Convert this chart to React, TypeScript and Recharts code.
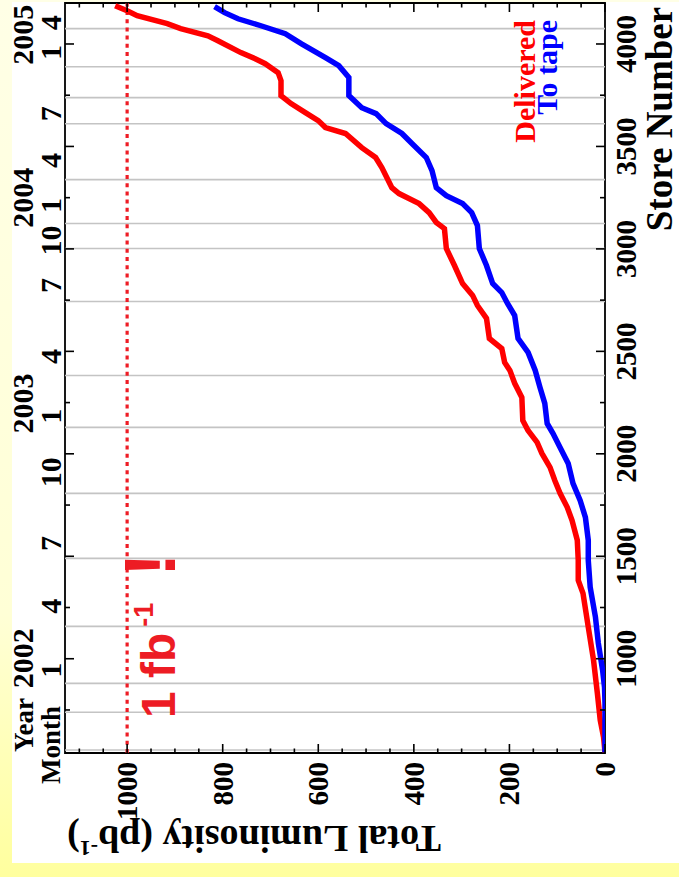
import React from "react";
import { LineChart, Line, XAxis, YAxis, ReferenceLine, ReferenceArea, Legend, Label } from "recharts";

// store number vs integrated luminosity (pb^-1)
const deliveredStore = [544, 617, 700, 832, 993, 1154, 1319, 1383, 1480, 1578, 1675, 1739, 1807, 1870, 1934, 2002, 2056, 2114, 2163, 2275, 2344, 2407, 2446, 2514, 2563, 2661, 2724, 2773, 2831, 2919, 3002, 3099, 3129, 3177, 3221, 3270, 3299, 3397, 3446, 3494, 3563, 3592, 3626, 3665, 3709, 3748, 3821, 3860, 3904, 3928, 3958, 4016, 4040, 4075, 4099, 4138, 4162, 4187];
const deliveredLum = [0, 3, 10, 16, 24, 35, 46, 56, 56, 58, 69, 79, 94, 105, 115, 132, 142, 161, 172, 174, 189, 199, 210, 216, 242, 248, 267, 277, 298, 315, 332, 336, 353, 368, 389, 431, 446, 467, 480, 509, 543, 585, 600, 627, 657, 678, 678, 684, 711, 732, 762, 810, 831, 888, 916, 979, 1000, 1025];

const tapeStore = [544, 783, 861, 944, 1076, 1203, 1349, 1480, 1578, 1690, 1773, 1856, 1953, 2031, 2100, 2148, 2246, 2324, 2407, 2495, 2563, 2675, 2734, 2787, 2831, 2919, 3002, 3114, 3177, 3221, 3260, 3299, 3382, 3446, 3514, 3563, 3611, 3660, 3689, 3748, 3836, 3894, 3933, 4001, 4050, 4089, 4123, 4153, 4182];
const tapeLum = [0, 0, 1, 5, 14, 20, 31, 35, 35, 41, 52, 67, 77, 94, 109, 121, 126, 136, 146, 161, 182, 189, 204, 216, 235, 248, 263, 267, 279, 298, 332, 353, 362, 374, 404, 425, 458, 479, 509, 536, 536, 557, 585, 635, 669, 720, 768, 796, 817];

const storeTicks = [750, 1000, 1250, 1500, 1750, 2000, 2250, 2500, 2750, 3000, 3250, 3500, 3750, 4000];
const lumTicks = [0, 50, 100, 150, 200, 250, 300, 350, 400, 450, 500, 550, 600, 650, 700, 750, 800, 850, 900, 950, 1000, 1050, 1100];

// calendar, placed on the store number scale
const monthTicks = [944, 1256, 1563, 1910, 2183, 2475, 2821, 3041, 3212, 3431, 3660, 3958, 4104];
const monthLabels = ["1", "4", "7", "10", "1", "4", "7", "10", "1", "4", "7", "1", "4"];
const yearTicks = [1003, 2246, 3250, 4045];
const yearLabels = ["2002", "2003", "2004", "2005"];
const monthLines = [555, 739, 880, 1158, 1490, 1807, 2129, 2382, 2743, 3002, 3124, 3338, 3611, 3738, 3889, 4075];

const deliveredData = deliveredStore.map((s, i) => ({ store: s, lum: deliveredLum[i] }));
const tapeData = tapeStore.map((s, i) => ({ store: s, lum: tapeLum[i] }));

// chart is drawn upright and then turned a quarter turn to the left
const W = 877;
const H = 679;
const PL = 124;
const PR = 874;
const PT = 65;
const PB = 605;
const SERIF = "'Liberation Serif', 'DejaVu Serif', serif";
const SANS = "'Liberation Sans', Arial, sans-serif";

function StoreTick(props: any) {
  const { x, payload } = props;
  const v = payload.value;
  const major = v % 500 === 0;
  const len = major ? 9 : 5;
  return (
    <g>
      <line x1={x} x2={x} y1={PB} y2={PB - len} stroke="#000" strokeWidth={1.6} />
      <line x1={x} x2={x} y1={PT} y2={PT + len} stroke="#000" strokeWidth={1.6} />
      {major && v >= 1000 && (
        <text x={x} y={636} textAnchor="middle" fontFamily={SERIF} fontWeight="bold" fontSize={29} fill="#000">
          {v}
        </text>
      )}
    </g>
  );
}

function LumTick(props: any) {
  const { y, payload } = props;
  const v = payload.value;
  const major = v % 200 === 0;
  const len = major ? 9 : 4.5;
  return (
    <g>
      <line x1={PL} x2={PL + len} y1={y} y2={y} stroke="#000" strokeWidth={1.6} />
      <line x1={PR} x2={PR - len} y1={y} y2={y} stroke="#000" strokeWidth={1.6} />
      {major && (
        <text x={115} y={y + 10} textAnchor="end" fontFamily={SERIF} fontWeight="bold" fontSize={29} fill="#000">
          {v}
        </text>
      )}
    </g>
  );
}

function calendarText(text: string, baseline: number) {
  return (props: any) => {
    const vb = props.viewBox || { x: 0 };
    return (
      <text x={vb.x} y={baseline} textAnchor="middle" fontFamily={SERIF} fontWeight="bold" fontSize={30} fill="#000">
        {text}
      </text>
    );
  };
}

function FbLabel(props: any) {
  const vb = props.viewBox || { x: PL, y: 127 };
  return (
    <text x={vb.x + 35} y={vb.y + 48} fill="#ED1C24" fontFamily={SANS} fontWeight="bold" fontSize={48}>
      1 fb
      <tspan fontSize={27} dx={6} dy={-22}>-1</tspan>
      <tspan fontSize={72} dx={26} dy={22}>!</tspan>
    </text>
  );
}

function LegendBox(props: any) {
  const items = props.payload || [];
  return (
    <div style={{ textAlign: "right", fontFamily: SERIF, fontWeight: "bold", fontSize: 30, lineHeight: "22px" }}>
      {items.map((p: any) => (
        <div key={p.value} style={{ color: p.color }}>
          {p.value}
        </div>
      ))}
    </div>
  );
}

export default function App() {
  return (
    <div
      style={{
        position: "absolute",
        left: 0,
        top: 0,
        width: 679,
        height: 877,
        overflow: "hidden",
        background: "linear-gradient(180deg, #FFFFE6 0%, #FFFFD6 70%, #FFFF9E 100%)",
      }}
    >
      <div style={{ position: "absolute", left: 12, top: 2, width: 667, height: 861, background: "#fff" }} />
      <div
        style={{
          position: "absolute",
          left: 0,
          top: 0,
          width: W,
          height: H,
          transformOrigin: "0 0",
          transform: "rotate(-90deg) translateX(-877px)",
        }}
      >
        <LineChart width={W} height={H} margin={{ top: PT - 40, right: W - PR, bottom: H - PB - 30, left: PL - 40 }}>
          <XAxis
            xAxisId="main"
            dataKey="store"
            type="number"
            domain={[540, 4200]}
            allowDataOverflow
            ticks={storeTicks}
            interval={0}
            height={30}
            axisLine={false}
            tickLine={false}
            tick={<StoreTick />}
          >
            <Label
              content={() => (
                <text x={758} y={672} textAnchor="middle" fontFamily={SERIF} fontWeight="bold" fontSize={37} fill="#000">
                  Store Number
                </text>
              )}
            />
          </XAxis>
          <XAxis
            xAxisId="cal"
            orientation="top"
            type="number"
            domain={[540, 4200]}
            allowDataOverflow
            height={40}
            axisLine={false}
            tickLine={false}
            tick={false}
          >
            <Label
              content={() => (
                <g fontFamily={SERIF} fontWeight="bold" fontSize={27} fill="#000" textAnchor="middle">
                  <text x={152} y={33}>Year</text>
                  <text x={132} y={60}>Month</text>
                </g>
              )}
            />
          </XAxis>
          <YAxis
            yAxisId="main"
            type="number"
            domain={[0, 1130]}
            allowDataOverflow
            ticks={lumTicks}
            interval={0}
            width={40}
            axisLine={false}
            tickLine={false}
            tick={<LumTick />}
          >
            <Label
              content={() => (
                <text
                  transform="translate(51,254) rotate(-90)"
                  textAnchor="middle"
                  fontFamily={SERIF}
                  fontWeight="bold"
                  fontSize={38}
                  fill="#000"
                >
                  Total Luminosity (pb
                  <tspan fontSize={22} dy={-15}>-1</tspan>
                  <tspan dy={15}>)</tspan>
                </text>
              )}
            />
          </YAxis>

          {monthLines.map((s) => (
            <ReferenceLine key={"g" + s} xAxisId="main" yAxisId="main" x={s} stroke="#c4c4c4" strokeWidth={1.6} />
          ))}
          {monthTicks.map((s, i) => (
            <ReferenceLine
              key={"m" + s}
              xAxisId="main"
              yAxisId="main"
              x={s}
              stroke="none"
              label={calendarText(monthLabels[i], 61)}
            />
          ))}
          {yearTicks.map((s, i) => (
            <ReferenceLine
              key={"y" + s}
              xAxisId="main"
              yAxisId="main"
              x={s}
              stroke="none"
              label={calendarText(yearLabels[i], 33)}
            />
          ))}
          <ReferenceLine
            xAxisId="main"
            yAxisId="main"
            y={1000}
            stroke="#EE1C25"
            strokeWidth={3.2}
            strokeDasharray="4 4.2"
            label={FbLabel}
          />
          <ReferenceArea
            xAxisId="main"
            yAxisId="main"
            x1={540}
            x2={4200}
            y1={0}
            y2={1130}
            fill="none"
            fillOpacity={0}
            stroke="#000"
            strokeWidth={1.8}
          />

          <Legend
            verticalAlign="middle"
            align="center"
            layout="horizontal"
            wrapperStyle={{ top: 514, left: 557, width: 300, height: 50 }}
            content={LegendBox}
          />

          <Line
            xAxisId="main"
            yAxisId="main"
            data={deliveredData}
            dataKey="lum"
            name="Delivered"
            type="linear"
            stroke="#FF0000"
            strokeWidth={5.5}
            dot={false}
            isAnimationActive={false}
          />
          <Line
            xAxisId="main"
            yAxisId="main"
            data={tapeData}
            dataKey="lum"
            name="To tape"
            type="linear"
            stroke="#0000FF"
            strokeWidth={5.5}
            dot={false}
            isAnimationActive={false}
          />
        </LineChart>
      </div>
    </div>
  );
}
